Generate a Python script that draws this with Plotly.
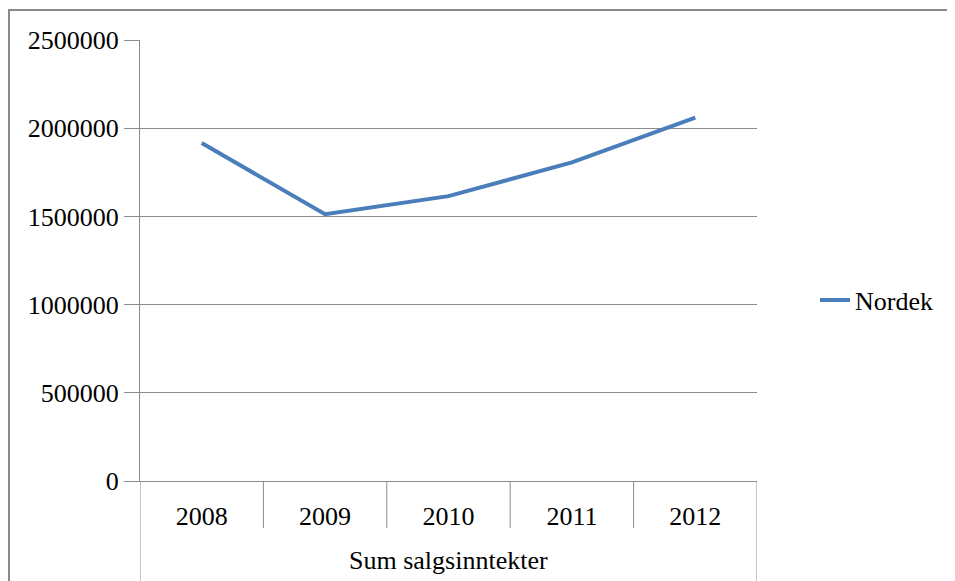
import plotly.graph_objects as go

years = ["2008", "2009", "2010", "2011", "2012"]
nordek = [1916000, 1512000, 1615000, 1806000, 2060000]
series_name = "Nordek"
group_label = "Sum salgsinntekter"
y_ticks = [0, 500000, 1000000, 1500000, 2000000, 2500000]

# page is rendered with an 8px body margin; work in page pixels
OFF = 8
W, H = 955, 581
L, T = 140 - OFF, 40 - OFF
pw, ph = 757 - 140, 481 - 40
R, B = W - L - pw, H - T - ph

def px_x(px):
    return (px - OFF - L) / pw

def px_y(py):
    return (T + ph - (py - OFF)) / ph

FONT = "Liberation Serif, Times New Roman, serif"
GRID = "#8c8c8c"

xs = list(range(len(years)))
fig = go.Figure()
fig.add_trace(go.Scatter(x=xs, y=nordek, mode="lines", name=series_name,
                         line=dict(color="#4a7ebb", width=4)))

shapes = []
# category separators
for i in range(len(years) + 1):
    b = i - 0.5
    y1 = px_y(600) if i in (0, len(years)) else px_y(528)
    shapes.append(dict(type="line", xref="x", yref="paper", x0=b, x1=b,
                       y0=0, y1=y1, line=dict(color=GRID, width=1)))
# outer chart border
shapes.append(dict(type="rect", xref="paper", yref="paper",
                   x0=px_x(9), x1=px_x(1100), y0=px_y(700), y1=px_y(10),
                   line=dict(color="#8a8a8a", width=2), layer="below"))

fig.update_layout(
    width=W, height=H,
    margin=dict(l=L, r=R, t=T, b=B),
    paper_bgcolor="white", plot_bgcolor="white",
    font=dict(family=FONT, size=26, color="#000000"),
    showlegend=True,
    legend=dict(x=px_x(815), y=px_y(300), xanchor="left", yanchor="middle",
                font=dict(family=FONT, size=26), bgcolor="rgba(0,0,0,0)"),
    xaxis=dict(range=[-0.5, len(years) - 0.5], tickvals=xs, ticktext=years,
               showgrid=False, zeroline=False, showline=True, linecolor=GRID,
               ticks="", ticklabelstandoff=12,
               tickfont=dict(family=FONT, size=26)),
    yaxis=dict(range=[0, 2500000], tickvals=y_ticks,
               ticktext=[str(v) for v in y_ticks],
               showgrid=True, gridcolor=GRID, gridwidth=1,
               zeroline=False, showline=True, linecolor=GRID,
               ticks="outside", ticklen=15, tickcolor=GRID,
               tickfont=dict(family=FONT, size=26)),
    shapes=shapes,
    annotations=[dict(text=group_label, xref="x", yref="paper",
                      x=(len(years) - 1) / 2, y=px_y(560),
                      showarrow=False, xanchor="center", yanchor="middle",
                      font=dict(family=FONT, size=26))],
)

fig.write_html("out.html")
